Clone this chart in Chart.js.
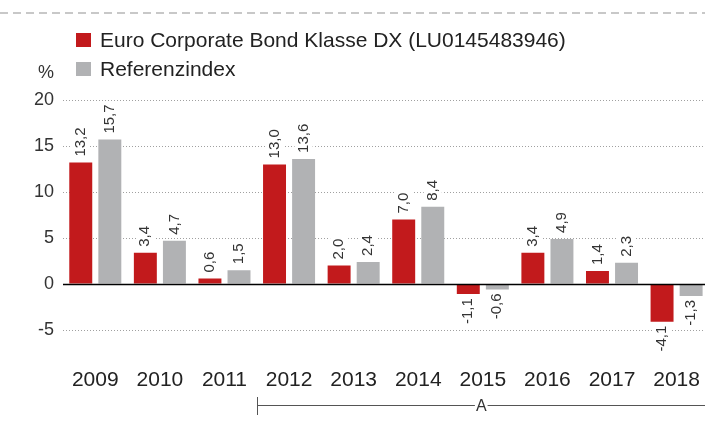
<!DOCTYPE html>
<html>
<head>
<meta charset="utf-8">
<script src="https://cdn.jsdelivr.net/npm/chart.js@4/dist/chart.umd.min.js"></script>
<style>
  html, body { margin: 0; padding: 0; background: #fff; overflow: hidden; }
  #wrap { width: 710px; height: 421px; position: relative; }
</style>
</head>
<body>
<div id="wrap"><canvas id="c" width="710" height="421"></canvas></div>
<script>
const years = ['2009','2010','2011','2012','2013','2014','2015','2016','2017','2018'];
const fundValues = [13.2, 3.4, 0.6, 13.0, 2.0, 7.0, -1.1, 3.4, 1.4, -4.1];
const indexValues = [15.7, 4.7, 1.5, 13.6, 2.4, 8.4, -0.6, 4.9, 2.3, -1.3];
const seriesNames = ['Euro Corporate Bond Klasse DX (LU0145483946)', 'Referenzindex'];
const seriesColors = ['#C21A1C', '#B1B2B4'];
const yTicks = [-5, 0, 5, 10, 15, 20];
const unitLabel = '%';
const periodLabel = 'A';
const periodStartIndex = 3;

const FONT = '"Liberation Sans", Arial, Helvetica, sans-serif';
const fmt = v => v.toFixed(1).replace('.', ',');

const extras = {
  id: 'extras',
  afterDatasetsDraw(chart) {
    const ctx = chart.ctx;
    const y = chart.scales.y;
    const area = chart.chartArea;
    ctx.save();
    ctx.strokeStyle = '#000';
    ctx.lineWidth = 1.5;
    const y0 = Math.round(y.getPixelForValue(0)) + 0.5;
    ctx.beginPath(); ctx.moveTo(area.left, y0); ctx.lineTo(area.right, y0); ctx.stroke();
    ctx.font = '15px ' + FONT;
    ctx.textBaseline = 'middle';
    chart.data.datasets.forEach((ds, di) => {
      const meta = chart.getDatasetMeta(di);
      meta.data.forEach((bar, i) => {
        const v = ds.data[i];
        const txt = fmt(v);
        const w = ctx.measureText(txt).width;
        ctx.save();
        if (v >= 0) {
          ctx.translate(bar.x, bar.y - 6);
          ctx.rotate(-Math.PI / 2);
          ctx.fillStyle = '#fff';
          ctx.fillRect(-1, -9, w + 3, 18);
          ctx.fillStyle = '#333';
          ctx.textAlign = 'left';
          ctx.fillText(txt, 0, 0);
        } else {
          ctx.translate(bar.x, bar.y + 4);
          ctx.rotate(-Math.PI / 2);
          ctx.fillStyle = '#fff';
          ctx.fillRect(-w - 3, -9, w + 4, 18);
          ctx.fillStyle = '#333';
          ctx.textAlign = 'right';
          ctx.fillText(txt, 0, 0);
        }
        ctx.restore();
      });
    });
    ctx.restore();
  },
  afterDraw(chart) {
    const ctx = chart.ctx;
    const x = chart.scales.x;
    ctx.save();
    ctx.strokeStyle = '#C8C8C8';
    ctx.lineWidth = 2;
    ctx.setLineDash([8, 5]);
    ctx.beginPath(); ctx.moveTo(0, 13); ctx.lineTo(chart.width, 13); ctx.stroke();
    ctx.setLineDash([]);
    ctx.font = '21px ' + FONT;
    ctx.textBaseline = 'middle';
    ctx.textAlign = 'left';
    const rows = [40, 69];
    seriesNames.forEach((n, i) => {
      ctx.fillStyle = seriesColors[i];
      ctx.fillRect(76, rows[i] - 7, 15, 14);
      ctx.fillStyle = '#222';
      ctx.fillText(n, 100, rows[i] + 1);
    });
    ctx.font = '18px ' + FONT;
    ctx.fillStyle = '#333';
    ctx.fillText(unitLabel, 38, 73);
    const xs = (x.getPixelForValue(periodStartIndex - 1) + x.getPixelForValue(periodStartIndex)) / 2;
    const xl = Math.round(xs) + 0.5;
    const xe = 705;
    const ya = 405.5;
    ctx.strokeStyle = '#555';
    ctx.lineWidth = 1;
    ctx.font = '16px ' + FONT;
    const mid = (xl + xe) / 2;
    const tw = ctx.measureText(periodLabel).width;
    ctx.beginPath();
    ctx.moveTo(xl, 397); ctx.lineTo(xl, 415);
    ctx.moveTo(xl, ya); ctx.lineTo(mid - tw / 2 - 1, ya);
    ctx.moveTo(mid + tw / 2 + 1, ya); ctx.lineTo(xe, ya);
    ctx.stroke();
    ctx.fillStyle = '#333';
    ctx.textAlign = 'center';
    ctx.fillText(periodLabel, mid, ya + 1);
    ctx.restore();
  }
};

new Chart(document.getElementById('c'), {
  type: 'bar',
  data: {
    labels: years,
    datasets: [
      { label: seriesNames[0], data: fundValues, backgroundColor: seriesColors[0], barPercentage: 0.79, categoryPercentage: 0.9 },
      { label: seriesNames[1], data: indexValues, backgroundColor: seriesColors[1], barPercentage: 0.79, categoryPercentage: 0.9 }
    ]
  },
  options: {
    responsive: false,
    animation: false,
    devicePixelRatio: 1,
    layout: { padding: { top: 100, left: 0, right: 1, bottom: 27 } },
    plugins: { legend: { display: false }, tooltip: { enabled: false } },
    scales: {
      x: {
        grid: { display: false, drawTicks: false },
        border: { display: false },
        ticks: { color: '#222', font: { family: FONT, size: 21 }, padding: 10, maxRotation: 0 },
        afterFit: s => { s.height = 36.4; }
      },
      y: {
        min: -8, max: 20,
        afterBuildTicks: s => { s.ticks = yTicks.map(v => ({ value: v })); },
        grid: {
          drawTicks: false,
          color: c => (c.tick && c.tick.value === 0) ? 'rgba(0,0,0,0)' : '#a0a0a0',
          lineWidth: 1
        },
        border: { display: false, dash: [1, 2] },
        ticks: { color: '#333', font: { family: FONT, size: 18 }, padding: 9 },
        afterFit: s => { s.width = 63; }
      }
    }
  },
  plugins: [extras]
});
</script>
</body>
</html>
